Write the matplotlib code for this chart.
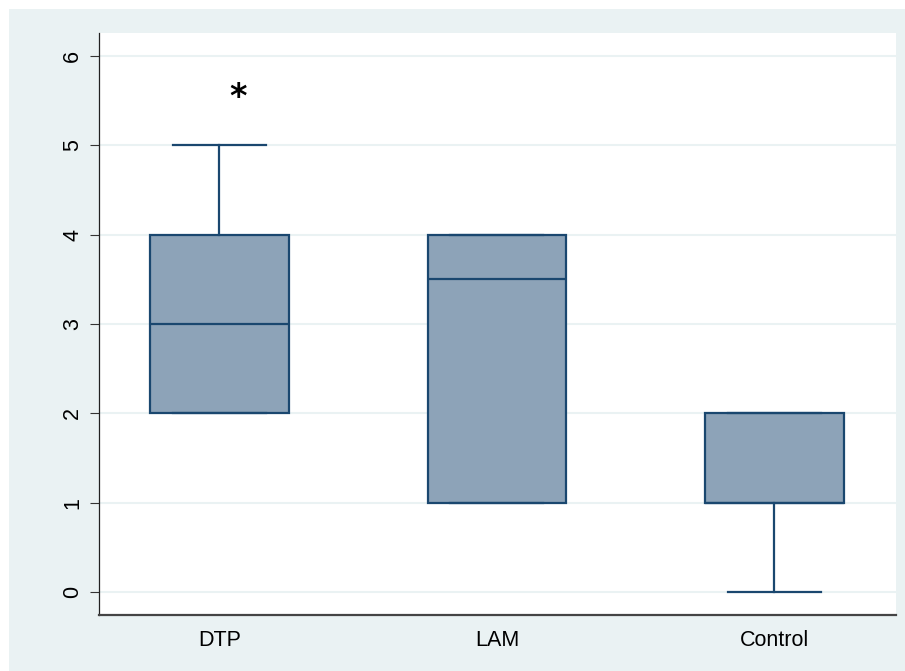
import matplotlib as mpl
mpl.use("Agg")
import matplotlib.pyplot as plt
from matplotlib.patches import Rectangle

# box summaries
groups = ['DTP', 'LAM', 'Control']
q1 = [2, 1, 1]
median = [3, 3.5, 1]
q3 = [4, 4, 2]
whislo = [2, 1, 0]
whishi = [5, 4, 2]
yticks = [0, 1, 2, 3, 4, 5, 6]
star_pos = (1.067, 5.53)

navy = '#1a476f'
fill = '#8da3b8'
bg = '#eaf2f3'

plt.rcParams['font.family'] = ['Liberation Sans', 'DejaVu Sans']

fig = plt.figure(figsize=(9.05, 6.71), dpi=100, facecolor='white')
fig.patches.append(Rectangle((9 / 905, 0), 1, 1 - 9 / 671, transform=fig.transFigure,
                             facecolor=bg, edgecolor='none', zorder=-1))
ax = fig.add_axes([99 / 905, 1 - 615 / 671, 797 / 905, 582 / 671])
ax.set_facecolor('white')

stats = []
for i, g in enumerate(groups):
    stats.append(dict(label=g, q1=q1[i], med=median[i], q3=q3[i],
                      whislo=whislo[i], whishi=whishi[i], fliers=[]))

pos = range(1, len(groups) + 1)
ax.bxp(stats, positions=pos, widths=0.5, patch_artist=True, showfliers=False,
       boxprops=dict(facecolor=fill, edgecolor=navy, linewidth=1.6),
       medianprops=dict(color=navy, linewidth=1.6),
       whiskerprops=dict(color=navy, linewidth=1.6),
       capprops=dict(color=navy, linewidth=1.6),
       capwidths=0.335, zorder=3)

ax.text(star_pos[0], star_pos[1], '*', fontsize=24, ha='center', va='center',
        family='DejaVu Sans', fontweight='bold')

ax.set_xlim(0.566, 3.438)
ax.set_ylim(-0.254, 6.256)
ax.set_yticks(yticks)
ax.set_yticklabels([str(t) for t in yticks], rotation=90, va='center')
ax.set_xticks(list(pos))
ax.set_xticklabels(groups)
ax.tick_params(axis='y', length=6.5, width=0.8, color='#333333', labelsize=15.5, pad=5)
ax.tick_params(axis='x', length=0, labelsize=15.5, pad=11)

ax.grid(axis='y', color=bg, linewidth=1.5, zorder=0)
ax.set_axisbelow(True)
for s in ['top', 'right']:
    ax.spines[s].set_visible(False)
ax.spines['left'].set_color('#222222')
ax.spines['left'].set_linewidth(0.9)
ax.spines['bottom'].set_color('#444444')
ax.spines['bottom'].set_linewidth(1.6)

fig.savefig('out.png', dpi=100)
